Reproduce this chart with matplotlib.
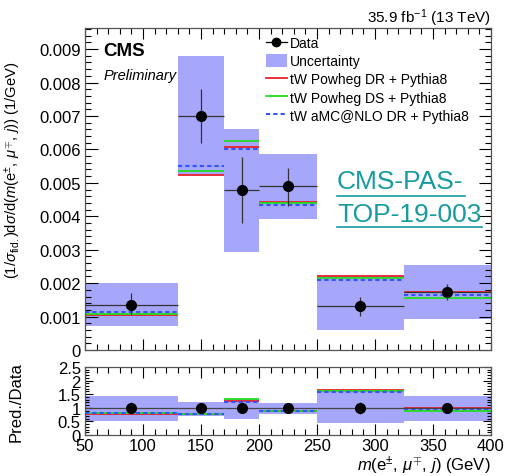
import numpy as np
import matplotlib
matplotlib.use('Agg')
import matplotlib.pyplot as plt
from matplotlib.lines import Line2D
from matplotlib.patches import Patch
from matplotlib.ticker import MultipleLocator

plt.rcParams['font.family'] = ['Liberation Sans', 'DejaVu Sans']
plt.rcParams['mathtext.fontset'] = 'custom'
plt.rcParams['mathtext.rm'] = 'Liberation Sans'
plt.rcParams['mathtext.it'] = 'Liberation Sans:italic'
plt.rcParams['mathtext.bf'] = 'Liberation Sans:bold'

# bin edges in m(e, mu, j) [GeV]
bin_lo = np.array([50, 130, 170, 200, 250, 325])
bin_hi = np.array([130, 170, 200, 250, 325, 400])

# normalised differential cross section (1/GeV)
data = np.array([0.00136, 0.00700, 0.00478, 0.00489, 0.00132, 0.00173])
data_up = np.array([0.00034, 0.00080, 0.00100, 0.00056, 0.00028, 0.00024])
data_dn = np.array([0.00032, 0.00080, 0.00099, 0.00058, 0.00030, 0.00023])
unc_top = np.array([0.00199, 0.00880, 0.00662, 0.00585, 0.00220, 0.00255])
unc_bot = np.array([0.00073, 0.00522, 0.00292, 0.00393, 0.00060, 0.00093])
dr_powheg = np.array([0.00104, 0.00523, 0.00607, 0.00444, 0.00220, 0.00172])
ds_powheg = np.array([0.00108, 0.00535, 0.00624, 0.00441, 0.00216, 0.00157])
dr_amc = np.array([0.00113, 0.00550, 0.00602, 0.00435, 0.00210, 0.00164])

# ratio panel (prediction / data)
r_data_err = np.array([0.22, 0.11, 0.20, 0.12, 0.22, 0.14])
r_unc_top = np.array([1.42, 1.20, 1.32, 1.17, 1.63, 1.42])
r_unc_bot = np.array([0.53, 0.69, 0.59, 0.77, 0.43, 0.53])
r_dr_powheg = np.array([0.76, 0.76, 1.26, 0.89, 1.65, 1.00])
r_ds_powheg = np.array([0.80, 0.77, 1.31, 0.88, 1.62, 0.89])
r_dr_amc = np.array([0.82, 0.78, 1.23, 0.87, 1.58, 0.94])

centers = (bin_lo + bin_hi) / 2
widths = bin_hi - bin_lo

c_band = '#a6a6fa'
c_red = '#e8202a'
c_green = '#22dd22'
c_blue = '#3355ff'

fig = plt.figure(figsize=(5.10, 4.77), dpi=100)
ax = fig.add_axes([85/510, 1-351/477, 406/510, 322/477])
rax = fig.add_axes([85/510, 1-436/477, 406/510, 68/477])

# main panel
ax.bar(centers, unc_top - unc_bot, width=widths, bottom=unc_bot, color=c_band, linewidth=0, zorder=1)
ax.hlines(dr_powheg, bin_lo, bin_hi, color=c_red, lw=1.3, zorder=2)
ax.hlines(ds_powheg, bin_lo, bin_hi, color=c_green, lw=1.3, zorder=2)
ax.hlines(dr_amc, bin_lo, bin_hi, color=c_blue, lw=1.5, linestyles=(0, (2, 1.5)), zorder=3)
ax.errorbar(centers, data, yerr=[data_dn, data_up], xerr=widths/2, fmt='o', color='black',
            ms=7, elinewidth=0.9, ecolor='#333333', capsize=0, zorder=4)

ax.set_xlim(50, 400)
ax.set_ylim(0, 0.00963)
ax.xaxis.set_major_locator(MultipleLocator(50))
ax.xaxis.set_minor_locator(MultipleLocator(10))
ax.yaxis.set_minor_locator(MultipleLocator(0.0002))
ax.set_yticks(np.arange(0, 0.0091, 0.001))
ax.set_yticklabels(['0'] + ['%.3f' % v for v in np.arange(0.001, 0.0091, 0.001)])
ax.tick_params(axis='x', labelbottom=False)
ax.set_ylabel(r'$(1/\sigma_{\mathrm{fid.}})\mathrm{d}\sigma/\mathrm{d}(m(\mathrm{e}^{\pm},\,\mu^{\mp},\,j))$ (1/GeV)',
              fontsize=10.6)
ax.yaxis.set_label_coords(-0.152, 0.56)

ax.text(0.045, 0.955, 'CMS', transform=ax.transAxes, fontsize=13.5, fontweight='bold', va='top')
ax.text(0.045, 0.875, 'Preliminary', transform=ax.transAxes, fontsize=10.5, style='italic', va='top')
fig.text(491/510, 1-18/477, r'35.9 fb$^{\mathregular{-1}}$ (13 TeV)', ha='right', va='center', fontsize=11)

teal = '#189ba0'
fig.text(337/510, 1-182/477, 'CMS-PAS-', color=teal, fontsize=19, va='center')
fig.text(337/510, 1-214.5/477, 'TOP-19-003', color=teal, fontsize=19, va='center')
fig.add_artist(Line2D([337/510, 465/510], [1-197/477, 1-197/477], color=teal, lw=1.2))
fig.add_artist(Line2D([337/510, 482/510], [1-228/477, 1-228/477], color=teal, lw=1.2))

handles = [
    Line2D([], [], color='black', marker='o', ms=6, lw=0.9),
    Patch(facecolor=c_band, edgecolor='none'),
    Line2D([], [], color=c_red, lw=1.3),
    Line2D([], [], color=c_green, lw=1.3),
    Line2D([], [], color=c_blue, lw=1.5, ls=(0, (2, 1.5))),
]
labels = ['Data', 'Uncertainty', 'tW Powheg DR + Pythia8', 'tW Powheg DS + Pythia8', 'tW aMC@NLO DR + Pythia8']
ax.legend(handles, labels, loc='upper left', bbox_to_anchor=(266/510, 1-37/477),
          bbox_transform=fig.transFigure, frameon=False, fontsize=10,
          handlelength=1.5, handleheight=1.0, handletextpad=0.25, labelspacing=0.3,
          borderpad=0, borderaxespad=0)

# ratio panel
rax.bar(centers, r_unc_top - r_unc_bot, width=widths, bottom=r_unc_bot, color=c_band, linewidth=0, zorder=1)
rax.hlines(r_dr_powheg, bin_lo, bin_hi, color=c_red, lw=1.3, zorder=2)
rax.hlines(r_ds_powheg, bin_lo, bin_hi, color=c_green, lw=1.3, zorder=2)
rax.hlines(r_dr_amc, bin_lo, bin_hi, color=c_blue, lw=1.5, linestyles=(0, (2, 1.5)), zorder=3)
rax.errorbar(centers, np.ones(len(centers)), yerr=r_data_err, xerr=widths/2, fmt='o', color='black',
             ms=7, elinewidth=0.9, ecolor='#444444', capsize=0, zorder=4)
rax.set_xlim(50, 400)
rax.set_ylim(0, 2.5)
rax.yaxis.set_minor_locator(MultipleLocator(0.1))
rax.xaxis.set_major_locator(MultipleLocator(50))
rax.xaxis.set_minor_locator(MultipleLocator(10))
rax.set_yticks([0, 0.5, 1, 1.5, 2, 2.5])
rax.set_yticklabels(['0', '0.5', '1', '1.5', '2', '2.5'])
rax.set_ylabel('Pred./Data', fontsize=12)
rax.yaxis.set_label_coords(-0.152, 0.5)
rax.set_xlabel(r'$m(\mathrm{e}^{\pm},\,\mu^{\mp},\,j)$ (GeV)', fontsize=12, loc='right', labelpad=1)

for a, major_len in ((ax, 9), (rax, 6)):
    a.tick_params(which='both', direction='in', top=True, right=True, labelsize=12, pad=3)
    a.tick_params(which='major', length=major_len, width=0.8)
    a.tick_params(which='minor', length=major_len/2, width=0.8)
    for s in a.spines.values():
        s.set_color('#555555')
        s.set_linewidth(0.9)
rax.tick_params(axis='x', which='major', length=8, pad=2)
rax.tick_params(axis='x', which='minor', length=4)
ax.tick_params(axis='x', which='major', length=8)
ax.tick_params(axis='x', which='minor', length=4)

fig.savefig('out.png', dpi=100)
